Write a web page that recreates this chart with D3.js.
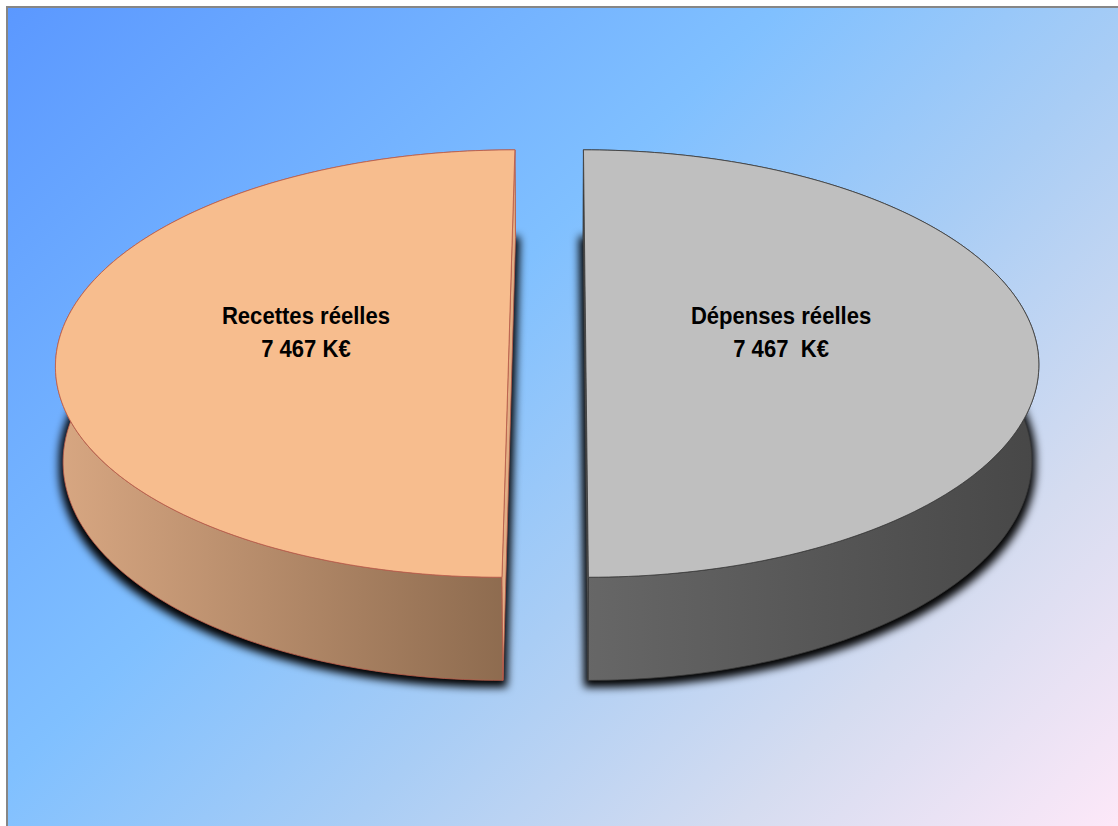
<!DOCTYPE html>
<html>
<head>
<meta charset="utf-8">
<script src="https://cdn.jsdelivr.net/npm/d3@7"></script>
<style>
  html, body { margin: 0; padding: 0; background: #ffffff; }
  svg { display: block; }
</style>
</head>
<body>
<svg id="chart" width="1118" height="826"></svg>
<script>
// ---- data ----
const categories = ["Recettes réelles", "Dépenses réelles"];
const values = [7467, 7467];
const valueLabels = ["7 467 K€", "7 467  K€"];
const topColors = ["#f7bd8e", "#bfbfbf"];
const sideColorsLight = ["#d8a782", "#676767"];
const sideColorsDark = ["#8c6a4e", "#474747"];
const edgeColors = ["#b85a4a", "#3a3a3a"];
const cutColors = ["#e2ae84", "#5a5a5a"];

const W = 1118, H = 826;
const svg = d3.select("#chart");
const defs = svg.append("defs");

// background gradient
const bg = defs.append("linearGradient").attr("id", "bg")
  .attr("gradientUnits", "userSpaceOnUse")
  .attr("x1", 8).attr("y1", 8).attr("x2", 972).attr("y2", 972);
[[0, "#5b98ff"], [0.4, "#80c0ff"], [0.6, "#a9cdf5"], [0.8, "#d5dcf0"], [1, "#fde8f8"]]
  .forEach(([o, c]) => bg.append("stop").attr("offset", o).attr("stop-color", c));

svg.append("rect").attr("x", 7).attr("y", 7).attr("width", W + 10).attr("height", H + 10)
  .attr("fill", "url(#bg)").attr("stroke", "#868686").attr("stroke-width", 2);

// ---- 3D projection ----
const phi = 28.5 * Math.PI / 180;
const cphi = Math.cos(phi), sphi = Math.sin(phi);
const t = 0.12;          // half thickness (radius units)
const D = 7.67;          // camera distance
const fy = 3452;         // vertical focal scale (px)
const fx = 3425;         // horizontal focal scale (px)
const camX = 0.038;      // camera lateral offset
const cx = 564.5, cy = 386.7;
const explode = 0.085;

function project(x, y, z) {
  const depth = D - (z * cphi + y * sphi);
  const up = y * cphi - z * sphi;
  return [cx + fx * (x - camX) / depth, cy - fy * up / depth];
}

const pie = d3.pie().sort(null).startAngle(Math.PI).endAngle(3 * Math.PI);
const arcs = pie(values);
const line = d3.line();

function arcPts(ox, oz, a0, a1, y, n) {
  const pts = [];
  for (let i = 0; i <= n; i++) {
    const a = a0 + (a1 - a0) * i / n;
    pts.push(project(ox + Math.sin(a), y, oz - Math.cos(a)));
  }
  return pts;
}

// shadow filter
const flt = defs.append("filter").attr("id", "shadow")
  .attr("x", "-20%").attr("y", "-20%").attr("width", "140%").attr("height", "140%");
flt.append("feMorphology").attr("operator", "dilate").attr("radius", 4).attr("result", "dil");
flt.append("feGaussianBlur").attr("in", "dil").attr("stdDeviation", 4);

const slices = arcs.map((d, i) => {
  const mid = (d.startAngle + d.endAngle) / 2;
  return {
    i, d,
    ox: Math.sin(mid) * explode,
    oz: -Math.cos(mid) * explode
  };
});

// shadows (bottom faces, blurred)
const gShadow = svg.append("g").attr("filter", "url(#shadow)").attr("transform", "translate(0,3)");
slices.forEach(s => {
  const pts = arcPts(s.ox, s.oz, s.d.startAngle, s.d.endAngle, -t, 120);
  pts.push(project(s.ox, -t, s.oz));
  gShadow.append("path").attr("d", line(pts) + "Z").attr("fill", "#000");
});

slices.forEach(s => {
  const i = s.i;
  const g = svg.append("g");
  const topPts = arcPts(s.ox, s.oz, s.d.startAngle, s.d.endAngle, t, 160);
  const botPts = arcPts(s.ox, s.oz, s.d.startAngle, s.d.endAngle, -t, 160);

  // side gradient (horizontal)
  const xs = topPts.map(p => p[0]);
  const gid = "side" + i;
  const gr = defs.append("linearGradient").attr("id", gid)
    .attr("gradientUnits", "userSpaceOnUse")
    .attr("x1", d3.min(xs)).attr("y1", 0).attr("x2", d3.max(xs)).attr("y2", 0);
  gr.append("stop").attr("offset", 0).attr("stop-color", sideColorsLight[i]);
  gr.append("stop").attr("offset", 1).attr("stop-color", sideColorsDark[i]);

  // outer side band
  const band = topPts.concat(botPts.slice().reverse());
  g.append("path").attr("d", line(band) + "Z")
    .attr("fill", `url(#${gid})`).attr("stroke", edgeColors[i]).attr("stroke-width", 0.8)
    .attr("stroke-linejoin", "round");

  // cut face (flat plane at the split)
  const cut = [
    project(s.ox, t, s.oz - 1), project(s.ox, t, s.oz + 1),
    project(s.ox, -t, s.oz + 1), project(s.ox, -t, s.oz - 1)
  ];
  g.append("path").attr("d", line(cut) + "Z")
    .attr("fill", cutColors[i]).attr("stroke", edgeColors[i]).attr("stroke-width", 0.8);

  // top face
  const top = topPts.concat([project(s.ox, t, s.oz)]);
  g.append("path").attr("d", line(top) + "Z")
    .attr("fill", topColors[i]).attr("stroke", edgeColors[i]).attr("stroke-width", 0.8)
    .attr("stroke-linejoin", "round");
});

// labels
const labelNudge = [0, -8];
slices.forEach(s => {
  const mid = (s.d.startAngle + s.d.endAngle) / 2;
  const r = 0.455;
  const p = project(s.ox + Math.sin(mid) * r, t, s.oz - 0.05);
  const lx = p[0] + labelNudge[s.i], ly = p[1];
  const txt = svg.append("text")
    .attr("transform", `translate(${lx},${ly}) scale(0.92,1)`)
    .attr("text-anchor", "middle")
    .attr("font-family", "'Liberation Sans Narrow', 'Arial Narrow', 'Liberation Sans', Arial, sans-serif")
    .attr("font-weight", "bold").attr("font-size", 24)
    .attr("fill", "#000")
    .style("white-space", "pre");
  txt.append("tspan").attr("x", 0).attr("y", -4).text(categories[s.i]);
  txt.append("tspan").attr("x", 0).attr("y", 29).text(valueLabels[s.i]);
});
</script>
</body>
</html>
